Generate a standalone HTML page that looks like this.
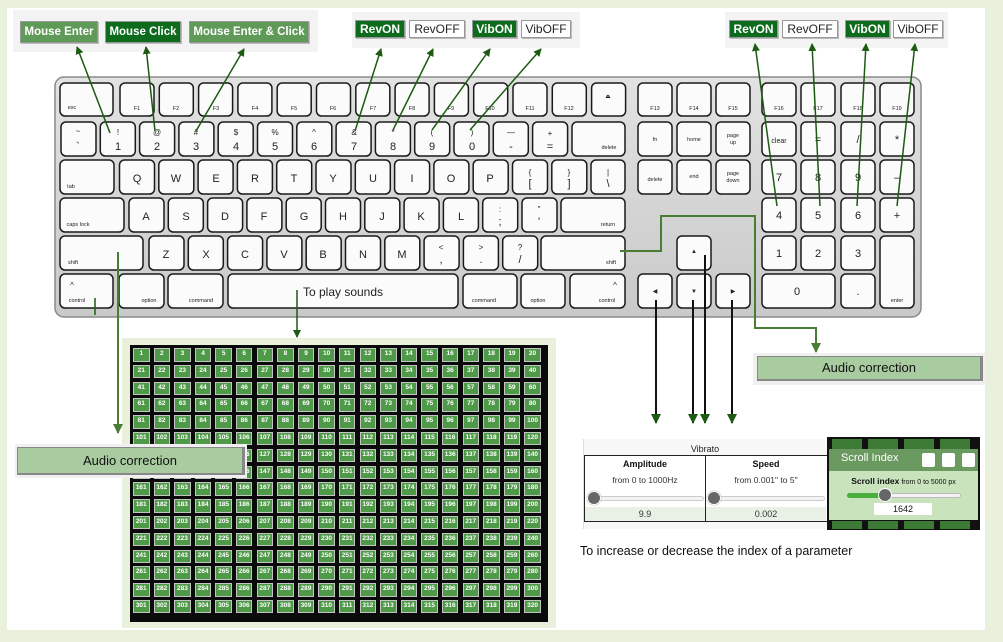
<!DOCTYPE html>
<html><head><meta charset="utf-8"><style>
*{margin:0;padding:0;box-sizing:border-box}
body{width:1003px;height:642px;background:#e9f1dc;position:relative;overflow:hidden;font-family:"Liberation Sans",sans-serif}
.abs{position:absolute}
.btn{position:absolute;height:22px;color:#fff;font-size:11.5px;font-weight:bold;text-align:center;line-height:20px;border:1px solid #999;box-shadow:1px 1px 0 #bbb}
.mg{background:#5f9a58}.dg{background:#0d6b1d}.wh{background:#fff;color:#222;font-weight:normal}
.sm{height:18px;line-height:16px;font-size:12px}
.grid{position:absolute;left:133px;top:348px;display:grid;grid-template-columns:repeat(20,16.5px);column-gap:4.1px;row-gap:3.3px;grid-auto-rows:13.5px}
.grid b{background:#4f9a48;border:1.5px solid #c4c4c4;color:#fff;font-size:6.5px;text-align:center;line-height:10.5px;font-weight:bold}
.lab{position:absolute;background:#a8cc9f;border:1px solid #888;border-right:3px solid #888;border-bottom:2px solid #888;font-size:13px;color:#111;text-align:center}
</style></head><body>
<div class="abs" style="left:7px;top:8px;width:978px;height:622px;background:#fff"></div>
<div class="abs" style="left:13px;top:10px;width:305px;height:42px;background:#f3f3f3"></div>
<div class="btn mg" style="left:20px;top:21px;width:78px">Mouse Enter</div>
<div class="btn dg" style="left:105px;top:21px;width:76px">Mouse Click</div>
<div class="btn mg" style="left:189px;top:21px;width:120px">Mouse Enter &amp; Click</div>
<div class="abs" style="left:352px;top:12px;width:228px;height:36px;background:#f3f3f3"></div>
<div class="btn sm dg" style="left:355px;top:20px;width:50px">RevON</div>
<div class="btn sm wh" style="left:409px;top:20px;width:56px">RevOFF</div>
<div class="btn sm dg" style="left:472px;top:20px;width:45px">VibON</div>
<div class="btn sm wh" style="left:521px;top:20px;width:50px">VibOFF</div>
<div class="abs" style="left:725px;top:12px;width:223px;height:36px;background:#f3f3f3"></div>
<div class="btn sm dg" style="left:729px;top:20px;width:49px">RevON</div>
<div class="btn sm wh" style="left:782px;top:20px;width:56px">RevOFF</div>
<div class="btn sm dg" style="left:845px;top:20px;width:45px">VibON</div>
<div class="btn sm wh" style="left:893px;top:20px;width:50px">VibOFF</div>

<svg class="abs" style="left:0;top:0" width="1003" height="642" font-family="Liberation Sans, sans-serif">
<defs><linearGradient id="kb" x1="0" y1="0" x2="0" y2="1"><stop offset="0" stop-color="#e2e2e2"/><stop offset="1" stop-color="#c9c9c9"/></linearGradient></defs>
<rect x="55" y="77" width="866" height="240" rx="9" fill="url(#kb)" stroke="#8a8a8a" stroke-width="1.5"/>
<g fill="#fbfbfb" stroke="#1a1a1a" stroke-width="1.5">
<rect x="60" y="83" width="53" height="33" rx="5"/>
<rect x="120" y="83" width="34" height="33" rx="5"/><rect x="159.3" y="83" width="34" height="33" rx="5"/><rect x="198.6" y="83" width="34" height="33" rx="5"/><rect x="237.9" y="83" width="34" height="33" rx="5"/><rect x="277.2" y="83" width="34" height="33" rx="5"/><rect x="316.5" y="83" width="34" height="33" rx="5"/><rect x="355.8" y="83" width="34" height="33" rx="5"/><rect x="395.1" y="83" width="34" height="33" rx="5"/><rect x="434.4" y="83" width="34" height="33" rx="5"/><rect x="473.7" y="83" width="34" height="33" rx="5"/><rect x="513" y="83" width="34" height="33" rx="5"/><rect x="552.3" y="83" width="34" height="33" rx="5"/><rect x="591.6" y="83" width="34" height="33" rx="5"/>
<rect x="61" y="122" width="35" height="34" rx="5"/><rect x="100.3" y="122" width="35" height="34" rx="5"/><rect x="139.6" y="122" width="35" height="34" rx="5"/><rect x="178.9" y="122" width="35" height="34" rx="5"/><rect x="218.2" y="122" width="35" height="34" rx="5"/><rect x="257.5" y="122" width="35" height="34" rx="5"/><rect x="296.8" y="122" width="35" height="34" rx="5"/><rect x="336.1" y="122" width="35" height="34" rx="5"/><rect x="375.4" y="122" width="35" height="34" rx="5"/><rect x="414.7" y="122" width="35" height="34" rx="5"/><rect x="454" y="122" width="35" height="34" rx="5"/><rect x="493.3" y="122" width="35" height="34" rx="5"/><rect x="532.6" y="122" width="35" height="34" rx="5"/><rect x="572" y="122" width="53" height="34" rx="5"/>
<rect x="60" y="160" width="54" height="34" rx="5"/><rect x="119.5" y="160" width="35" height="34" rx="5"/><rect x="158.8" y="160" width="35" height="34" rx="5"/><rect x="198.1" y="160" width="35" height="34" rx="5"/><rect x="237.4" y="160" width="35" height="34" rx="5"/><rect x="276.7" y="160" width="35" height="34" rx="5"/><rect x="316" y="160" width="35" height="34" rx="5"/><rect x="355.3" y="160" width="35" height="34" rx="5"/><rect x="394.6" y="160" width="35" height="34" rx="5"/><rect x="433.9" y="160" width="35" height="34" rx="5"/><rect x="473.2" y="160" width="35" height="34" rx="5"/><rect x="512.5" y="160" width="35" height="34" rx="5"/><rect x="551.8" y="160" width="35" height="34" rx="5"/><rect x="591" y="160" width="34" height="34" rx="5"/>
<rect x="60" y="198" width="64" height="34" rx="5"/><rect x="129" y="198" width="35" height="34" rx="5"/><rect x="168.3" y="198" width="35" height="34" rx="5"/><rect x="207.6" y="198" width="35" height="34" rx="5"/><rect x="246.9" y="198" width="35" height="34" rx="5"/><rect x="286.2" y="198" width="35" height="34" rx="5"/><rect x="325.5" y="198" width="35" height="34" rx="5"/><rect x="364.8" y="198" width="35" height="34" rx="5"/><rect x="404.1" y="198" width="35" height="34" rx="5"/><rect x="443.4" y="198" width="35" height="34" rx="5"/><rect x="482.7" y="198" width="35" height="34" rx="5"/><rect x="522" y="198" width="35" height="34" rx="5"/><rect x="561" y="198" width="64" height="34" rx="5"/>
<rect x="60" y="236" width="83" height="34" rx="5"/><rect x="149" y="236" width="35" height="34" rx="5"/><rect x="188.3" y="236" width="35" height="34" rx="5"/><rect x="227.6" y="236" width="35" height="34" rx="5"/><rect x="266.9" y="236" width="35" height="34" rx="5"/><rect x="306.2" y="236" width="35" height="34" rx="5"/><rect x="345.5" y="236" width="35" height="34" rx="5"/><rect x="384.8" y="236" width="35" height="34" rx="5"/><rect x="424.1" y="236" width="35" height="34" rx="5"/><rect x="463.4" y="236" width="35" height="34" rx="5"/><rect x="502.7" y="236" width="35" height="34" rx="5"/><rect x="541" y="236" width="84" height="34" rx="5"/>
<rect x="60" y="274" width="53" height="34" rx="5"/><rect x="119" y="274" width="45" height="34" rx="5"/><rect x="168" y="274" width="55" height="34" rx="5"/><rect x="228" y="274" width="230" height="34" rx="5"/><rect x="463" y="274" width="54" height="34" rx="5"/><rect x="521" y="274" width="44" height="34" rx="5"/><rect x="570" y="274" width="55" height="34" rx="5"/>
<rect x="638" y="83" width="34" height="33" rx="5"/><rect x="677" y="83" width="34" height="33" rx="5"/><rect x="716" y="83" width="34" height="33" rx="5"/>
<rect x="638" y="122" width="34" height="34" rx="5"/><rect x="677" y="122" width="34" height="34" rx="5"/><rect x="716" y="122" width="34" height="34" rx="5"/>
<rect x="638" y="160" width="34" height="34" rx="5"/><rect x="677" y="160" width="34" height="34" rx="5"/><rect x="716" y="160" width="34" height="34" rx="5"/>
<rect x="677" y="236" width="34" height="34" rx="5"/>
<rect x="638" y="274" width="34" height="34" rx="5"/><rect x="677" y="274" width="34" height="34" rx="5"/><rect x="716" y="274" width="34" height="34" rx="5"/>
<rect x="762" y="83" width="34" height="33" rx="5"/><rect x="801" y="83" width="34" height="33" rx="5"/><rect x="841" y="83" width="34" height="33" rx="5"/><rect x="880" y="83" width="34" height="33" rx="5"/>
<rect x="762" y="122" width="34" height="34" rx="5"/><rect x="801" y="122" width="34" height="34" rx="5"/><rect x="841" y="122" width="34" height="34" rx="5"/><rect x="880" y="122" width="34" height="34" rx="5"/>
<rect x="762" y="160" width="34" height="34" rx="5"/><rect x="801" y="160" width="34" height="34" rx="5"/><rect x="841" y="160" width="34" height="34" rx="5"/><rect x="880" y="160" width="34" height="34" rx="5"/>
<rect x="762" y="198" width="34" height="34" rx="5"/><rect x="801" y="198" width="34" height="34" rx="5"/><rect x="841" y="198" width="34" height="34" rx="5"/><rect x="880" y="198" width="34" height="34" rx="5"/>
<rect x="762" y="236" width="34" height="34" rx="5"/><rect x="801" y="236" width="34" height="34" rx="5"/><rect x="841" y="236" width="34" height="34" rx="5"/><rect x="880" y="236" width="34" height="72" rx="5"/>
<rect x="762" y="274" width="73" height="34" rx="5"/><rect x="841" y="274" width="34" height="34" rx="5"/>
</g>
<g fill="#222" font-size="5.5" text-anchor="middle">
<text x="72" y="109">esc</text>
<text x="137" y="110">F1</text><text x="176" y="110">F2</text><text x="216" y="110">F3</text><text x="255" y="110">F4</text><text x="294" y="110">F5</text><text x="333" y="110">F6</text><text x="373" y="110">F7</text><text x="412" y="110">F8</text><text x="451" y="110">F9</text><text x="490" y="110">F10</text><text x="530" y="110">F11</text><text x="569" y="110">F12</text><text x="608" y="98">⏏</text>
<text x="655" y="110">F13</text><text x="694" y="110">F14</text><text x="733" y="110">F15</text><text x="779" y="110">F16</text><text x="818" y="110">F17</text><text x="858" y="110">F18</text><text x="897" y="110">F19</text>
<text x="609" y="149">delete</text><text x="655" y="141">fn</text><text x="694" y="141">home</text><text x="733" y="137">page</text><text x="733" y="144">up</text>
<text x="655" y="181">delete</text><text x="694" y="178">end</text><text x="733" y="175">page</text><text x="733" y="182">down</text>
<text x="71" y="188">tab</text><text x="78" y="226">caps lock</text><text x="608" y="226">return</text><text x="73" y="264">shift</text><text x="611" y="264">shift</text>
<text x="77" y="302">control</text><text x="149" y="302">option</text><text x="201" y="302">command</text><text x="484" y="302">command</text><text x="538" y="302">option</text><text x="607" y="302">control</text><text x="897" y="302">enter</text>
</g>
<g fill="#222" font-size="11" text-anchor="middle">
<text x="78" y="150">`</text><text x="118" y="150">1</text><text x="157" y="150">2</text><text x="196" y="150">3</text><text x="236" y="150">4</text><text x="275" y="150">5</text><text x="314" y="150">6</text><text x="354" y="150">7</text><text x="393" y="150">8</text><text x="432" y="150">9</text><text x="472" y="150">0</text><text x="511" y="150">-</text><text x="550" y="150">=</text>
<text x="137" y="182">Q</text><text x="176" y="182">W</text><text x="216" y="182">E</text><text x="255" y="182">R</text><text x="294" y="182">T</text><text x="333" y="182">Y</text><text x="373" y="182">U</text><text x="412" y="182">I</text><text x="451" y="182">O</text><text x="490" y="182">P</text><text x="530" y="187">[</text><text x="569" y="187">]</text><text x="608" y="187">\</text>
<text x="146" y="220">A</text><text x="186" y="220">S</text><text x="225" y="220">D</text><text x="264" y="220">F</text><text x="304" y="220">G</text><text x="343" y="220">H</text><text x="382" y="220">J</text><text x="421" y="220">K</text><text x="461" y="220">L</text><text x="500" y="225">;</text><text x="539" y="225">'</text>
<text x="166" y="258">Z</text><text x="206" y="258">X</text><text x="245" y="258">C</text><text x="284" y="258">V</text><text x="323" y="258">B</text><text x="363" y="258">N</text><text x="402" y="258">M</text><text x="441" y="263">,</text><text x="481" y="263">.</text><text x="520" y="263">/</text>
<text x="343" y="296" font-size="12">To play sounds</text>
<text x="779" y="143" font-size="7">clear</text><text x="818" y="143">=</text><text x="858" y="143">/</text><text x="897" y="143">*</text>
<text x="779" y="181">7</text><text x="818" y="181">8</text><text x="858" y="181">9</text><text x="897" y="181">–</text>
<text x="779" y="219">4</text><text x="818" y="219">5</text><text x="858" y="219">6</text><text x="897" y="219">+</text>
<text x="779" y="257">1</text><text x="818" y="257">2</text><text x="858" y="257">3</text><text x="797" y="295">0</text><text x="858" y="295">.</text>
<text x="694" y="253" font-size="6">▲</text><text x="655" y="293" font-size="6">◀</text><text x="694" y="293" font-size="6">▼</text><text x="733" y="293" font-size="6">▶</text>
</g>
<g fill="#222" font-size="8" text-anchor="middle">
<text x="78" y="134">~</text><text x="118" y="135">!</text><text x="157" y="135">@</text><text x="196" y="135">#</text><text x="236" y="135">$</text><text x="275" y="135">%</text><text x="314" y="135">^</text><text x="354" y="135">&amp;</text><text x="393" y="135">*</text><text x="432" y="135">(</text><text x="472" y="135">)</text><text x="511" y="135">—</text><text x="550" y="136">+</text>
<text x="530" y="175">{</text><text x="569" y="175">}</text><text x="608" y="175">|</text><text x="500" y="212">:</text><text x="539" y="212">"</text>
<text x="441" y="250">&lt;</text><text x="481" y="250">&gt;</text><text x="520" y="250">?</text><text x="72" y="288">^</text><text x="615" y="288">^</text>
</g>
</svg>

<div class="abs" style="left:122px;top:338px;width:434px;height:290px;background:#e9f1dc"></div>
<div class="abs" style="left:130px;top:345px;width:418px;height:277px;background:#0a0a0a"></div>
<div class="grid">
<b>1</b><b>2</b><b>3</b><b>4</b><b>5</b><b>6</b><b>7</b><b>8</b><b>9</b><b>10</b><b>11</b><b>12</b><b>13</b><b>14</b><b>15</b><b>16</b><b>17</b><b>18</b><b>19</b><b>20</b>
<b>21</b><b>22</b><b>23</b><b>24</b><b>25</b><b>26</b><b>27</b><b>28</b><b>29</b><b>30</b><b>31</b><b>32</b><b>33</b><b>34</b><b>35</b><b>36</b><b>37</b><b>38</b><b>39</b><b>40</b>
<b>41</b><b>42</b><b>43</b><b>44</b><b>45</b><b>46</b><b>47</b><b>48</b><b>49</b><b>50</b><b>51</b><b>52</b><b>53</b><b>54</b><b>55</b><b>56</b><b>57</b><b>58</b><b>59</b><b>60</b>
<b>61</b><b>62</b><b>63</b><b>64</b><b>65</b><b>66</b><b>67</b><b>68</b><b>69</b><b>70</b><b>71</b><b>72</b><b>73</b><b>74</b><b>75</b><b>76</b><b>77</b><b>78</b><b>79</b><b>80</b>
<b>81</b><b>82</b><b>83</b><b>84</b><b>85</b><b>86</b><b>87</b><b>88</b><b>89</b><b>90</b><b>91</b><b>92</b><b>93</b><b>94</b><b>95</b><b>96</b><b>97</b><b>98</b><b>99</b><b>100</b>
<b>101</b><b>102</b><b>103</b><b>104</b><b>105</b><b>106</b><b>107</b><b>108</b><b>109</b><b>110</b><b>111</b><b>112</b><b>113</b><b>114</b><b>115</b><b>116</b><b>117</b><b>118</b><b>119</b><b>120</b>
<b>121</b><b>122</b><b>123</b><b>124</b><b>125</b><b>126</b><b>127</b><b>128</b><b>129</b><b>130</b><b>131</b><b>132</b><b>133</b><b>134</b><b>135</b><b>136</b><b>137</b><b>138</b><b>139</b><b>140</b>
<b>141</b><b>142</b><b>143</b><b>144</b><b>145</b><b>146</b><b>147</b><b>148</b><b>149</b><b>150</b><b>151</b><b>152</b><b>153</b><b>154</b><b>155</b><b>156</b><b>157</b><b>158</b><b>159</b><b>160</b>
<b>161</b><b>162</b><b>163</b><b>164</b><b>165</b><b>166</b><b>167</b><b>168</b><b>169</b><b>170</b><b>171</b><b>172</b><b>173</b><b>174</b><b>175</b><b>176</b><b>177</b><b>178</b><b>179</b><b>180</b>
<b>181</b><b>182</b><b>183</b><b>184</b><b>185</b><b>186</b><b>187</b><b>188</b><b>189</b><b>190</b><b>191</b><b>192</b><b>193</b><b>194</b><b>195</b><b>196</b><b>197</b><b>198</b><b>199</b><b>200</b>
<b>201</b><b>202</b><b>203</b><b>204</b><b>205</b><b>206</b><b>207</b><b>208</b><b>209</b><b>210</b><b>211</b><b>212</b><b>213</b><b>214</b><b>215</b><b>216</b><b>217</b><b>218</b><b>219</b><b>220</b>
<b>221</b><b>222</b><b>223</b><b>224</b><b>225</b><b>226</b><b>227</b><b>228</b><b>229</b><b>230</b><b>231</b><b>232</b><b>233</b><b>234</b><b>235</b><b>236</b><b>237</b><b>238</b><b>239</b><b>240</b>
<b>241</b><b>242</b><b>243</b><b>244</b><b>245</b><b>246</b><b>247</b><b>248</b><b>249</b><b>250</b><b>251</b><b>252</b><b>253</b><b>254</b><b>255</b><b>256</b><b>257</b><b>258</b><b>259</b><b>260</b>
<b>261</b><b>262</b><b>263</b><b>264</b><b>265</b><b>266</b><b>267</b><b>268</b><b>269</b><b>270</b><b>271</b><b>272</b><b>273</b><b>274</b><b>275</b><b>276</b><b>277</b><b>278</b><b>279</b><b>280</b>
<b>281</b><b>282</b><b>283</b><b>284</b><b>285</b><b>286</b><b>287</b><b>288</b><b>289</b><b>290</b><b>291</b><b>292</b><b>293</b><b>294</b><b>295</b><b>296</b><b>297</b><b>298</b><b>299</b><b>300</b>
<b>301</b><b>302</b><b>303</b><b>304</b><b>305</b><b>306</b><b>307</b><b>308</b><b>309</b><b>310</b><b>311</b><b>312</b><b>313</b><b>314</b><b>315</b><b>316</b><b>317</b><b>318</b><b>319</b><b>320</b>
</div>

<div class="abs" style="left:583px;top:439px;width:244px;height:90px;background:#f7f7f7;border-left:1px solid #ddd"></div>
<div class="abs" style="left:583px;top:444px;width:244px;font-size:9px;text-align:center;color:#222">Vibrato</div>
<div class="abs" style="left:584px;top:455px;width:122px;height:67px;border:1px solid #222;background:#fff"></div>
<div class="abs" style="left:705px;top:455px;width:122px;height:67px;border:1px solid #222;border-right:none;background:#fff"></div>
<div class="abs" style="left:585px;top:507px;width:241px;height:14px;background:#e9f1e6"></div>
<div class="abs" style="left:705px;top:455px;width:1px;height:67px;background:#222"></div>
<div class="abs" style="left:584px;top:459px;width:122px;text-align:center;font-size:9px;font-weight:bold;color:#111">Amplitude</div>
<div class="abs" style="left:705px;top:459px;width:122px;text-align:center;font-size:9px;font-weight:bold;color:#111">Speed</div>
<div class="abs" style="left:584px;top:475px;width:122px;text-align:center;font-size:8.5px;color:#333">from 0 to 1000Hz</div>
<div class="abs" style="left:705px;top:475px;width:122px;text-align:center;font-size:8.5px;color:#333">from 0.001" to 5"</div>
<div class="abs" style="left:590px;top:496px;width:114px;height:5px;border:1px solid #ccc;border-radius:3px;background:#f4f4f4"></div>
<div class="abs" style="left:710px;top:496px;width:115px;height:5px;border:1px solid #ccc;border-radius:3px;background:#f4f4f4"></div>
<div class="abs" style="left:587px;top:491px;width:14px;height:14px;border-radius:50%;background:#666;border:1.5px solid #fff;box-shadow:0 0 1px #555"></div>
<div class="abs" style="left:707px;top:491px;width:14px;height:14px;border-radius:50%;background:#666;border:1.5px solid #fff;box-shadow:0 0 1px #555"></div>
<div class="abs" style="left:584px;top:509px;width:122px;text-align:center;font-size:9px;color:#333">9.9</div>
<div class="abs" style="left:705px;top:509px;width:122px;text-align:center;font-size:9px;color:#333">0.002</div>

<div class="abs" style="left:827px;top:437px;width:153px;height:93px;background:#111"></div>
<div class="abs" style="left:832px;top:439px;width:30px;height:10px;background:#3d7a36"></div>
<div class="abs" style="left:868px;top:439px;width:30px;height:10px;background:#3d7a36"></div>
<div class="abs" style="left:904px;top:439px;width:30px;height:10px;background:#3d7a36"></div>
<div class="abs" style="left:940px;top:439px;width:30px;height:10px;background:#3d7a36"></div>
<div class="abs" style="left:832px;top:521px;width:30px;height:8px;background:#3d7a36"></div>
<div class="abs" style="left:868px;top:521px;width:30px;height:8px;background:#3d7a36"></div>
<div class="abs" style="left:904px;top:521px;width:30px;height:8px;background:#3d7a36"></div>
<div class="abs" style="left:940px;top:521px;width:30px;height:8px;background:#3d7a36"></div>
<div class="abs" style="left:829px;top:449px;width:149px;height:22px;background:#6a9a5f;color:#fff;font-size:11px;padding:3px 0 0 12px">Scroll Index</div>
<div class="abs" style="left:922px;top:453px;width:13px;height:14px;background:#fff;border-radius:2px"></div>
<div class="abs" style="left:942px;top:453px;width:13px;height:14px;background:#fff;border-radius:2px"></div>
<div class="abs" style="left:962px;top:453px;width:13px;height:14px;background:#fff;border-radius:2px"></div>
<div class="abs" style="left:829px;top:471px;width:149px;height:49px;background:#c9e3bd"></div>
<div class="abs" style="left:829px;top:476px;width:149px;text-align:center;font-size:7px;color:#111"><b style="font-size:8.5px">Scroll index</b> from 0 to 5000 px</div>
<div class="abs" style="left:847px;top:493px;width:114px;height:5px;border-radius:3px;background:#f4f4f4;border:1px solid #bbb"></div>
<div class="abs" style="left:847px;top:493px;width:40px;height:5px;border-radius:3px;background:#4cae3c"></div>
<div class="abs" style="left:878px;top:488px;width:14px;height:14px;border-radius:50%;background:#666;border:1.5px solid #fff"></div>
<div class="abs" style="left:874px;top:503px;width:58px;height:12px;background:#fff;font-size:9px;text-align:center;line-height:12px;color:#111">1642</div>

<div class="abs" style="left:580px;top:544px;font-size:12.5px;color:#111">To increase or decrease the index of a parameter</div>

<div class="abs" style="left:15px;top:444px;width:232px;height:34px;background:#f0f0f0"></div>
<div class="lab" style="left:17px;top:447px;width:228px;height:28px;line-height:25px">Audio correction</div>
<div class="abs" style="left:753px;top:353px;width:232px;height:32px;background:#f0f0f0"></div>
<div class="lab" style="left:757px;top:356px;width:226px;height:25px;line-height:22px">Audio correction</div>

<svg class="abs" style="left:0;top:0" width="1003" height="642">
<defs>
<marker id="a" markerWidth="8" markerHeight="8" refX="7" refY="4" orient="auto" markerUnits="userSpaceOnUse"><path d="M0,0 L8,4 L0,8 z" fill="#1d5a12"/></marker>
<marker id="b" markerWidth="10" markerHeight="10" refX="9" refY="5" orient="auto" markerUnits="userSpaceOnUse"><path d="M0,0 L10,5 L0,10 z" fill="#4a7d34"/></marker>
<marker id="c" markerWidth="10" markerHeight="10" refX="9" refY="5" orient="auto" markerUnits="userSpaceOnUse"><path d="M0,0 L10,5 L0,10 z" fill="#1d5a12"/></marker>
</defs>
<g stroke="#1d5a12" stroke-width="1.5" fill="none" marker-end="url(#a)">
<line x1="110" y1="133" x2="77" y2="47"/>
<line x1="155" y1="131" x2="146" y2="47"/>
<line x1="196" y1="131" x2="244" y2="49"/>
<line x1="355" y1="131" x2="381" y2="49"/>
<line x1="393" y1="130" x2="433" y2="49"/>
<line x1="432" y1="130" x2="490" y2="49"/>
<line x1="470" y1="130" x2="541" y2="49"/>
<line x1="777" y1="206" x2="755" y2="44"/>
<line x1="820" y1="206" x2="812" y2="44"/>
<line x1="857" y1="206" x2="866" y2="44"/>
<line x1="897" y1="206" x2="915" y2="44"/>
</g>
<line x1="95" y1="298" x2="95" y2="315" stroke="#1d5a12" stroke-width="1.5"/>
<line x1="297" y1="290" x2="297" y2="337" stroke="#1d5a12" stroke-width="1.5" marker-end="url(#a)"/>
<g stroke="#4a7d34" stroke-width="2" fill="none" marker-end="url(#b)">
<line x1="118" y1="252" x2="118" y2="433"/>
<polyline points="620,251 661,251 661,216 755,216 755,328 816,328 816,352"/>
</g>
<g stroke="#111" stroke-width="2" fill="none" marker-end="url(#c)">
<line x1="656" y1="300" x2="656" y2="423"/>
<line x1="693" y1="300" x2="693" y2="423"/>
<line x1="705" y1="255" x2="705" y2="423"/>
<line x1="732" y1="300" x2="732" y2="423"/>
</g>
</svg>
</body></html>
